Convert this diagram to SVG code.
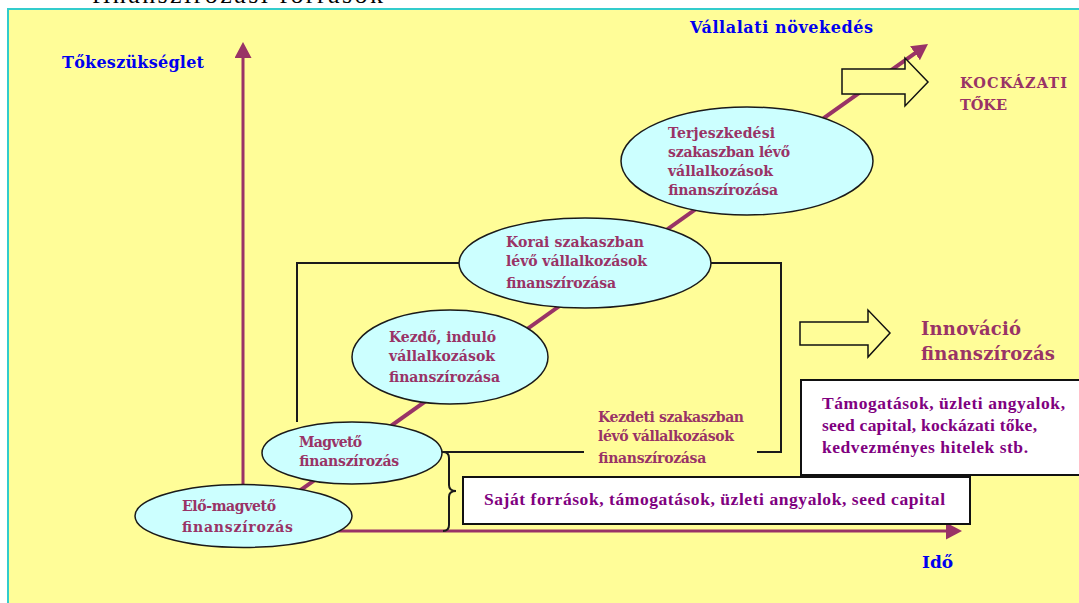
<svg xmlns="http://www.w3.org/2000/svg" width="1079" height="603" viewBox="0 0 1079 603">
  <style>
    .lbl { font-family: "DejaVu Serif", "Liberation Serif", serif; font-weight: bold; }
    .stage { font-size: 14px; fill: #993366; }
    .axis-t { font-size: 16px; fill: #0000EE; }
    .side { fill: #993366; }
    .box-t { font-family: "Liberation Serif", "Times New Roman", serif; font-weight: bold; font-size: 17.5px; fill: #800080; }
    .stage-shape { fill: #CCFFFF; stroke: #1a1a1a; stroke-width: 1.5; }
    .bracket { fill: none; stroke: #1a1a1a; stroke-width: 2; }
    .axis { stroke: #993366; stroke-width: 3; fill: none; }
    .growth { stroke: #993366; stroke-width: 4; fill: none; }
    .block-arrow { fill: #FFFD98; stroke: #111; stroke-width: 1.5; }
    .note-box { fill: #FFFFFF; stroke: #111; stroke-width: 2; }
  </style>
  <defs>
    <marker id="head" markerUnits="userSpaceOnUse" markerWidth="18" markerHeight="18" refX="2" refY="8.5" orient="auto">
      <path d="M0,0 L16,8.5 L0,17 z" fill="#993366"/>
    </marker>
  </defs>

  <!-- page strip and title line above the panel -->
  <rect x="0" y="0" width="1079" height="603" fill="#FFFFFF"/>
  <text x="92" y="3" font-family="Liberation Serif, serif" font-size="26" fill="#000" textLength="291" lengthAdjust="spacing">finanszírozási források</text>

  <!-- yellow panel -->
  <rect x="8" y="9" width="1085" height="600" fill="#FFFD98" stroke="#33CCCC" stroke-width="2"/>

  <!-- connectors: axes, growth line, brackets -->
  <g id="connectors">
    <line class="axis" x1="243" y1="531" x2="243" y2="56" marker-end="url(#head)"/>
    <line class="axis" x1="243" y1="531" x2="948" y2="531" marker-end="url(#head)"/>
    <line class="growth" x1="243" y1="531" x2="916.6" y2="52.1" marker-end="url(#head)"/>
    <polyline class="bracket" points="297,422 297,263 470,263"/>
    <polyline class="bracket" points="700,263 781,263 781,452 757,452"/>
    <line class="bracket" x1="430" y1="452" x2="584" y2="452"/>
    <path class="bracket" stroke-width="1.5" d="M443,452 Q449,452 449,458 L449,485 Q449,491 456,491 Q449,491 449,497 L449,525 Q449,531 443,531"/>
  </g>

  <g id="axis-labels" class="lbl axis-t">
    <text x="62" y="68" textLength="142" lengthAdjust="spacing">Tőkeszükséglet</text>
    <text x="690" y="33" textLength="183" lengthAdjust="spacing">Vállalati növekedés</text>
    <text x="922" y="568" font-size="17">Idő</text>
  </g>

  <g id="pre-seed">
    <ellipse class="stage-shape" cx="243.5" cy="516" rx="108.5" ry="31.5"/>
    <text class="lbl stage" x="182" y="511" textLength="94" lengthAdjust="spacing">Elő-magvető</text>
    <text class="lbl stage" x="182" y="532" textLength="111" lengthAdjust="spacing">finanszírozás</text>
  </g>

  <g id="seed">
    <ellipse class="stage-shape" cx="352" cy="453" rx="90" ry="31"/>
    <text class="lbl stage" x="299" y="447" textLength="63" lengthAdjust="spacing">Magvető</text>
    <text class="lbl stage" x="299" y="466" textLength="100" lengthAdjust="spacing">finanszírozás</text>
  </g>

  <g id="startup">
    <ellipse class="stage-shape" cx="450" cy="357" rx="98" ry="47"/>
    <text class="lbl stage" x="389" y="342" textLength="107" lengthAdjust="spacing">Kezdő, induló</text>
    <text class="lbl stage" x="389" y="361" textLength="106" lengthAdjust="spacing">vállalkozások</text>
    <text class="lbl stage" x="389" y="382" textLength="111" lengthAdjust="spacing">finanszírozása</text>
  </g>

  <g id="early-stage">
    <ellipse class="stage-shape" cx="585" cy="263" rx="126" ry="45"/>
    <text class="lbl stage" x="506" y="247" textLength="138" lengthAdjust="spacing">Korai szakaszban</text>
    <text class="lbl stage" x="506" y="266" textLength="141" lengthAdjust="spacing">lévő vállalkozások</text>
    <text class="lbl stage" x="506" y="288" textLength="110" lengthAdjust="spacing">finanszírozása</text>
  </g>

  <g id="expansion">
    <ellipse class="stage-shape" cx="747" cy="161" rx="126" ry="54"/>
    <text class="lbl stage" x="668" y="138" textLength="107" lengthAdjust="spacing">Terjeszkedési</text>
    <text class="lbl stage" x="668" y="157" textLength="122" lengthAdjust="spacing">szakaszban lévő</text>
    <text class="lbl stage" x="668" y="176" textLength="105" lengthAdjust="spacing">vállalkozások</text>
    <text class="lbl stage" x="668" y="195" textLength="110" lengthAdjust="spacing">finanszírozása</text>
  </g>

  <g id="initial-stage-label">
    <text class="lbl stage" x="598" y="422" textLength="146" lengthAdjust="spacing">Kezdeti szakaszban</text>
    <text class="lbl stage" x="598" y="441" textLength="136" lengthAdjust="spacing">lévő vállalkozások</text>
    <text class="lbl stage" x="598" y="463" textLength="108" lengthAdjust="spacing">finanszírozása</text>
  </g>

  <g id="venture-capital">
    <path class="block-arrow" d="M842,69 L905,69 L905,58 L928,82 L905,106 L905,94 L842,94 z"/>
    <text class="lbl side" font-size="14.5" x="960" y="88" textLength="107" lengthAdjust="spacing">KOCKÁZATI</text>
    <text class="lbl side" font-size="14.5" x="960" y="110" textLength="47" lengthAdjust="spacing">TŐKE</text>
  </g>

  <g id="innovation-finance">
    <path class="block-arrow" d="M800,322 L868,322 L868,310 L890,333 L868,357 L868,345 L800,345 z"/>
    <text class="lbl side" font-size="18" x="921" y="335" textLength="100" lengthAdjust="spacing">Innováció</text>
    <text class="lbl side" font-size="18" x="921" y="360" textLength="134" lengthAdjust="spacing">finanszírozás</text>
  </g>

  <g id="later-sources">
    <rect class="note-box" x="801" y="380" width="290" height="95"/>
    <text class="box-t" x="822" y="409" textLength="243" lengthAdjust="spacing">Támogatások, üzleti angyalok,</text>
    <text class="box-t" x="822" y="431" textLength="215" lengthAdjust="spacing">seed capital, kockázati tőke,</text>
    <text class="box-t" x="822" y="453" textLength="206" lengthAdjust="spacing">kedvezményes hitelek stb.</text>
  </g>

  <g id="early-sources">
    <rect class="note-box" x="463" y="477" width="507" height="47"/>
    <text class="box-t" x="484" y="505" textLength="461" lengthAdjust="spacing">Saját források, támogatások, üzleti angyalok, seed capital</text>
  </g>
</svg>
